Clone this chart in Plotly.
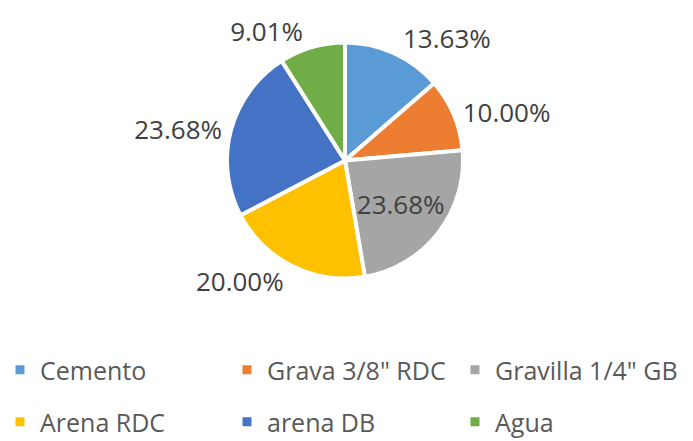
import plotly.graph_objects as go

categories = ["Cemento", "Grava 3/8\" RDC", "Gravilla 1/4\" GB", "Arena RDC", "arena DB", "Agua"]
values = [13.63, 10.00, 23.68, 20.00, 23.68, 9.01]
colors = ["#5B9BD5", "#ED7D31", "#A5A5A5", "#FFC000", "#4472C4", "#70AD47"]
text_positions = ["outside", "outside", "inside", "outside", "outside", "outside"]

W, H = 693, 441
FONT = "Open Sans, Liberation Sans, Arial, sans-serif"

fig = go.Figure()
fig.add_trace(go.Pie(
    labels=categories,
    values=values,
    sort=False,
    direction="clockwise",
    rotation=0,
    marker=dict(colors=colors, line=dict(color="white", width=4)),
    texttemplate="%{value:.2f}%",
    textposition=text_positions,
    textfont=dict(family=FONT, size=26, color="#404040"),
    insidetextorientation="horizontal",
    showlegend=False,
    domain=dict(x=[227 / W, 463 / W], y=[1 - 279 / H, 1 - 42 / H]),
))

# legend: 3 columns x 2 rows, one legend box per entry
col_left_px = [0, 227, 455]
row_mid_px = [370, 422]
layout_legends = {}
for i, (name, col) in enumerate(zip(categories, colors)):
    key = "legend" if i == 0 else f"legend{i + 1}"
    fig.add_trace(go.Scatter(
        x=[None], y=[None], mode="markers", name=name,
        marker=dict(symbol="square", size=9, color=col),
        legend=key, hoverinfo="skip",
    ))
    layout_legends[key] = dict(
        x=col_left_px[i % 3] / W, y=1 - row_mid_px[i // 3] / H,
        xanchor="left", yanchor="middle", orientation="h",
        font=dict(family=FONT, size=25, color="#595959"),
        itemsizing="trace", bgcolor="rgba(0,0,0,0)", borderwidth=0,
    )

fig.update_layout(
    width=W, height=H,
    margin=dict(l=0, r=0, t=0, b=0, autoexpand=False),
    paper_bgcolor="white", plot_bgcolor="white",
    xaxis=dict(visible=False), yaxis=dict(visible=False),
    **layout_legends,
)

fig.write_html("out.html", config={"displayModeBar": False},
               post_script="document.body.style.margin='0px';")
